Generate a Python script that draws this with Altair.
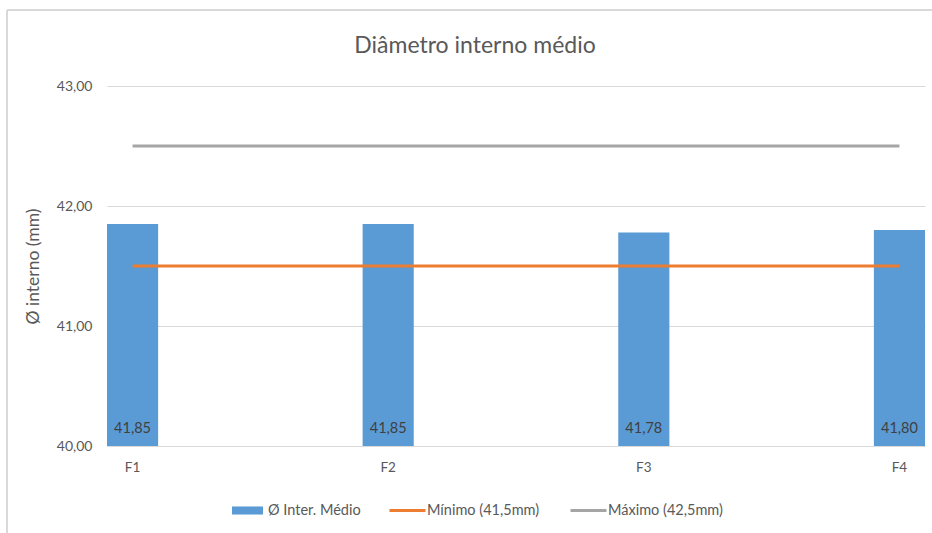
import altair as alt
import pandas as pd

# Categorias e medições (mm)
categorias = ["F1", "F2", "F3", "F4"]
diametro_medio = [41.85, 41.85, 41.78, 41.80]
limite_minimo = [41.5, 41.5, 41.5, 41.5]
limite_maximo = [42.5, 42.5, 42.5, 42.5]
y_ticks = [40, 41, 42, 43]

serie_barra = "Ø Inter. Médio"
serie_minimo = "Mínimo (41,5mm)"
serie_maximo = "Máximo (42,5mm)"

AZUL = "#5B9BD5"
LARANJA = "#ED7D31"
CINZA = "#A5A5A5"
GRADE = "#D9D9D9"
TEXTO = "#595959"
FONT = "Lato"

barras_df = pd.DataFrame({"categoria": categorias, "valor": diametro_medio, "serie": serie_barra})
linhas_df = pd.concat([
    pd.DataFrame({"categoria": categorias, "valor": limite_minimo, "serie": serie_minimo}),
    pd.DataFrame({"categoria": categorias, "valor": limite_maximo, "serie": serie_maximo}),
], ignore_index=True)

x_scale = alt.Scale(type="band", paddingInner=0.8, paddingOuter=0)
y_scale = alt.Scale(domain=[40, 43], zero=False, nice=False)

x_enc = alt.X(
    "categoria:N", sort=categorias, scale=x_scale,
    axis=alt.Axis(title=None, labelAngle=0, ticks=False, domainColor=GRADE,
                  labelColor=TEXTO, labelFontSize=13.5, labelFont=FONT, labelPadding=14),
)

y_axis = alt.Axis(
    values=y_ticks,
    labelExpr="replace(format(datum.value, '.2f'), '.', ',')",
    domain=False, ticks=False, gridColor=GRADE,
    labelColor=TEXTO, labelFontSize=14, labelFont=FONT, labelPadding=15,
    title="Ø interno (mm)", titleColor=TEXTO, titleFontSize=17.5, titleFont=FONT,
    titleFontWeight="normal", titleAngle=270, titleX=-74, titleY=180,
    titleAlign="center", titleBaseline="middle",
)

barras = alt.Chart(barras_df).mark_bar().encode(
    x=x_enc,
    y=alt.Y("valor:Q", scale=y_scale, axis=y_axis),
    y2=alt.datum(40),
    fill=alt.Fill(
        "serie:N",
        scale=alt.Scale(domain=[serie_barra], range=[AZUL]),
        legend=alt.Legend(
            title=None, orient="none", legendX=125, legendY=409, padding=0,
            symbolType="M-1,-0.26H1V0.26H-1Z", symbolSize=961, symbolStrokeWidth=0,
            labelFontSize=14.5, labelFont=FONT, labelColor=TEXTO, labelOffset=5,
        ),
    ),
)

linhas = alt.Chart(linhas_df).mark_line(strokeWidth=3).encode(
    x=x_enc,
    y=alt.Y("valor:Q", scale=y_scale),
    stroke=alt.Stroke(
        "serie:N",
        scale=alt.Scale(domain=[serie_minimo, serie_maximo], range=[LARANJA, CINZA]),
        legend=alt.Legend(
            title=None, orient="none", legendX=281, legendY=405, padding=0,
            direction="horizontal", symbolType="stroke", symbolSize=1296,
            symbolStrokeWidth=3, columnPadding=24,
            labelFontSize=14.5, labelFont=FONT, labelColor=TEXTO, labelOffset=0,
        ),
    ),
)

rotulos = alt.Chart(barras_df).transform_calculate(
    rotulo="replace(format(datum.valor, '.2f'), '.', ',')"
).mark_text(fontSize=14.5, font=FONT, color="#404040", baseline="alphabetic", dy=-13).encode(
    x=x_enc,
    y=alt.datum(40),
    text="rotulo:N",
)

# Moldura da área do gráfico (topo e lateral esquerda)
moldura_df = pd.DataFrame({"k": [0]})
moldura_topo = alt.Chart(moldura_df).mark_rule(color=GRADE, strokeWidth=2).encode(
    x=alt.value(-100), x2=alt.value(830), y=alt.value(-76)
)
moldura_esq = alt.Chart(moldura_df).mark_rule(color=GRADE, strokeWidth=2).encode(
    x=alt.value(-100), y=alt.value(-76), y2=alt.value(450)
)

chart = alt.layer(
    moldura_topo, moldura_esq, barras, linhas, rotulos
).properties(
    width=818,
    height=360,
    title=alt.TitleParams(
        "Diâmetro interno médio", fontSize=23, font=FONT, fontWeight="normal",
        color=TEXTO, anchor="middle", frame="group", dx=-41, offset=0, dy=49,
    ),
    autosize=alt.AutoSizeParams(type="none"),
    padding={"left": 107, "top": 86, "right": 7, "bottom": 87},
    background="white",
).configure_view(stroke=None)

chart.save("out.html", embed_options={"renderer": "svg", "actions": False})
